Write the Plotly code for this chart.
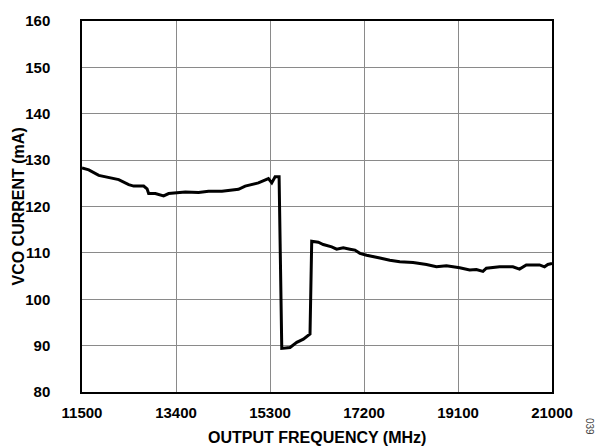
import plotly.graph_objects as go

freq_mhz = [11500, 11637, 11839, 12041, 12242, 12444, 12545, 12747, 12815, 12847,
            12982, 13150, 13251, 13588, 13856, 14058, 14328, 14663, 14798, 15066,
            15268, 15336, 15403, 15484, 15538, 15705, 15841, 15974, 16109, 16143,
            16276, 16377, 16547, 16647, 16781, 16916, 17017, 17117, 17253, 17521,
            17722, 17924, 18192, 18463, 18664, 18866, 19134, 19336, 19471, 19604,
            19673, 19941, 20209, 20344, 20480, 20748, 20849, 20916, 21000]
vco_current_ma = [128.3, 127.9, 126.7, 126.2, 125.8, 124.7, 124.4, 124.4, 123.8, 122.8,
                  122.8, 122.3, 122.8, 123.1, 123.0, 123.3, 123.3, 123.7, 124.4, 125.1,
                  126.0, 125.1, 126.4, 126.4, 89.4, 89.6, 90.7, 91.4, 92.5, 112.5,
                  112.3, 111.8, 111.3, 110.8, 111.1, 110.8, 110.6, 109.9, 109.5, 108.9,
                  108.4, 108.1, 107.9, 107.5, 107.0, 107.2, 106.8, 106.3, 106.4, 106.0,
                  106.7, 107.0, 107.0, 106.5, 107.4, 107.4, 107.0, 107.5, 107.7]

x_ticks = [11500, 13400, 15300, 17200, 19100, 21000]
y_ticks = [80, 90, 100, 110, 120, 130, 140, 150, 160]

font_family = "Liberation Sans, Arial, sans-serif"
tick_font = dict(family=font_family, size=15, color="black", weight="bold")

fig = go.Figure()
fig.add_trace(go.Scatter(x=freq_mhz, y=vco_current_ma, mode="lines",
                         line=dict(color="black", width=3), showlegend=False))

fig.update_layout(
    width=597, height=446,
    margin=dict(l=82, r=45, t=16, b=54),
    plot_bgcolor="white", paper_bgcolor="white",
    font=dict(family=font_family, size=14, color="black"),
    xaxis=dict(range=[11500, 21000], tickvals=x_ticks, ticktext=[str(v) for v in x_ticks],
               showgrid=True, gridcolor="#8a8a8a", gridwidth=1,
               showline=True, linecolor="black", linewidth=1.5, mirror=True,
               ticks="", ticklabelstandoff=6, zeroline=False, tickfont=tick_font),
    yaxis=dict(range=[80, 160], tickvals=y_ticks, ticktext=[str(v) for v in y_ticks],
               showgrid=True, gridcolor="#8a8a8a", gridwidth=1,
               showline=True, linecolor="black", linewidth=1.5, mirror=True,
               ticks="", ticklabelstandoff=27, zeroline=False, tickfont=tick_font),
    annotations=[
        dict(text="<b>OUTPUT FREQUENCY (MHz)</b>", xref="paper", yref="paper",
             x=0.5, y=0, yshift=-45, showarrow=False, xanchor="center", yanchor="middle",
             font=dict(family=font_family, size=16, color="black")),
        dict(text="<b>VCO CURRENT (mA)</b>", xref="paper", yref="paper",
             x=0, xshift=-64, y=0.5, showarrow=False, textangle=-90,
             xanchor="center", yanchor="middle",
             font=dict(family=font_family, size=16, color="black")),
        dict(text="039", xref="paper", yref="paper", x=1, xshift=38, y=0, yshift=-34,
             showarrow=False, textangle=90, xanchor="center", yanchor="middle",
             font=dict(family=font_family, size=10, color="#444444")),
    ],
)

fig.write_html(
    "out.html",
    config={"displayModeBar": False},
    post_script="document.body.style.margin='0';document.body.style.padding='0';"
                "document.body.style.overflow='hidden';",
)
